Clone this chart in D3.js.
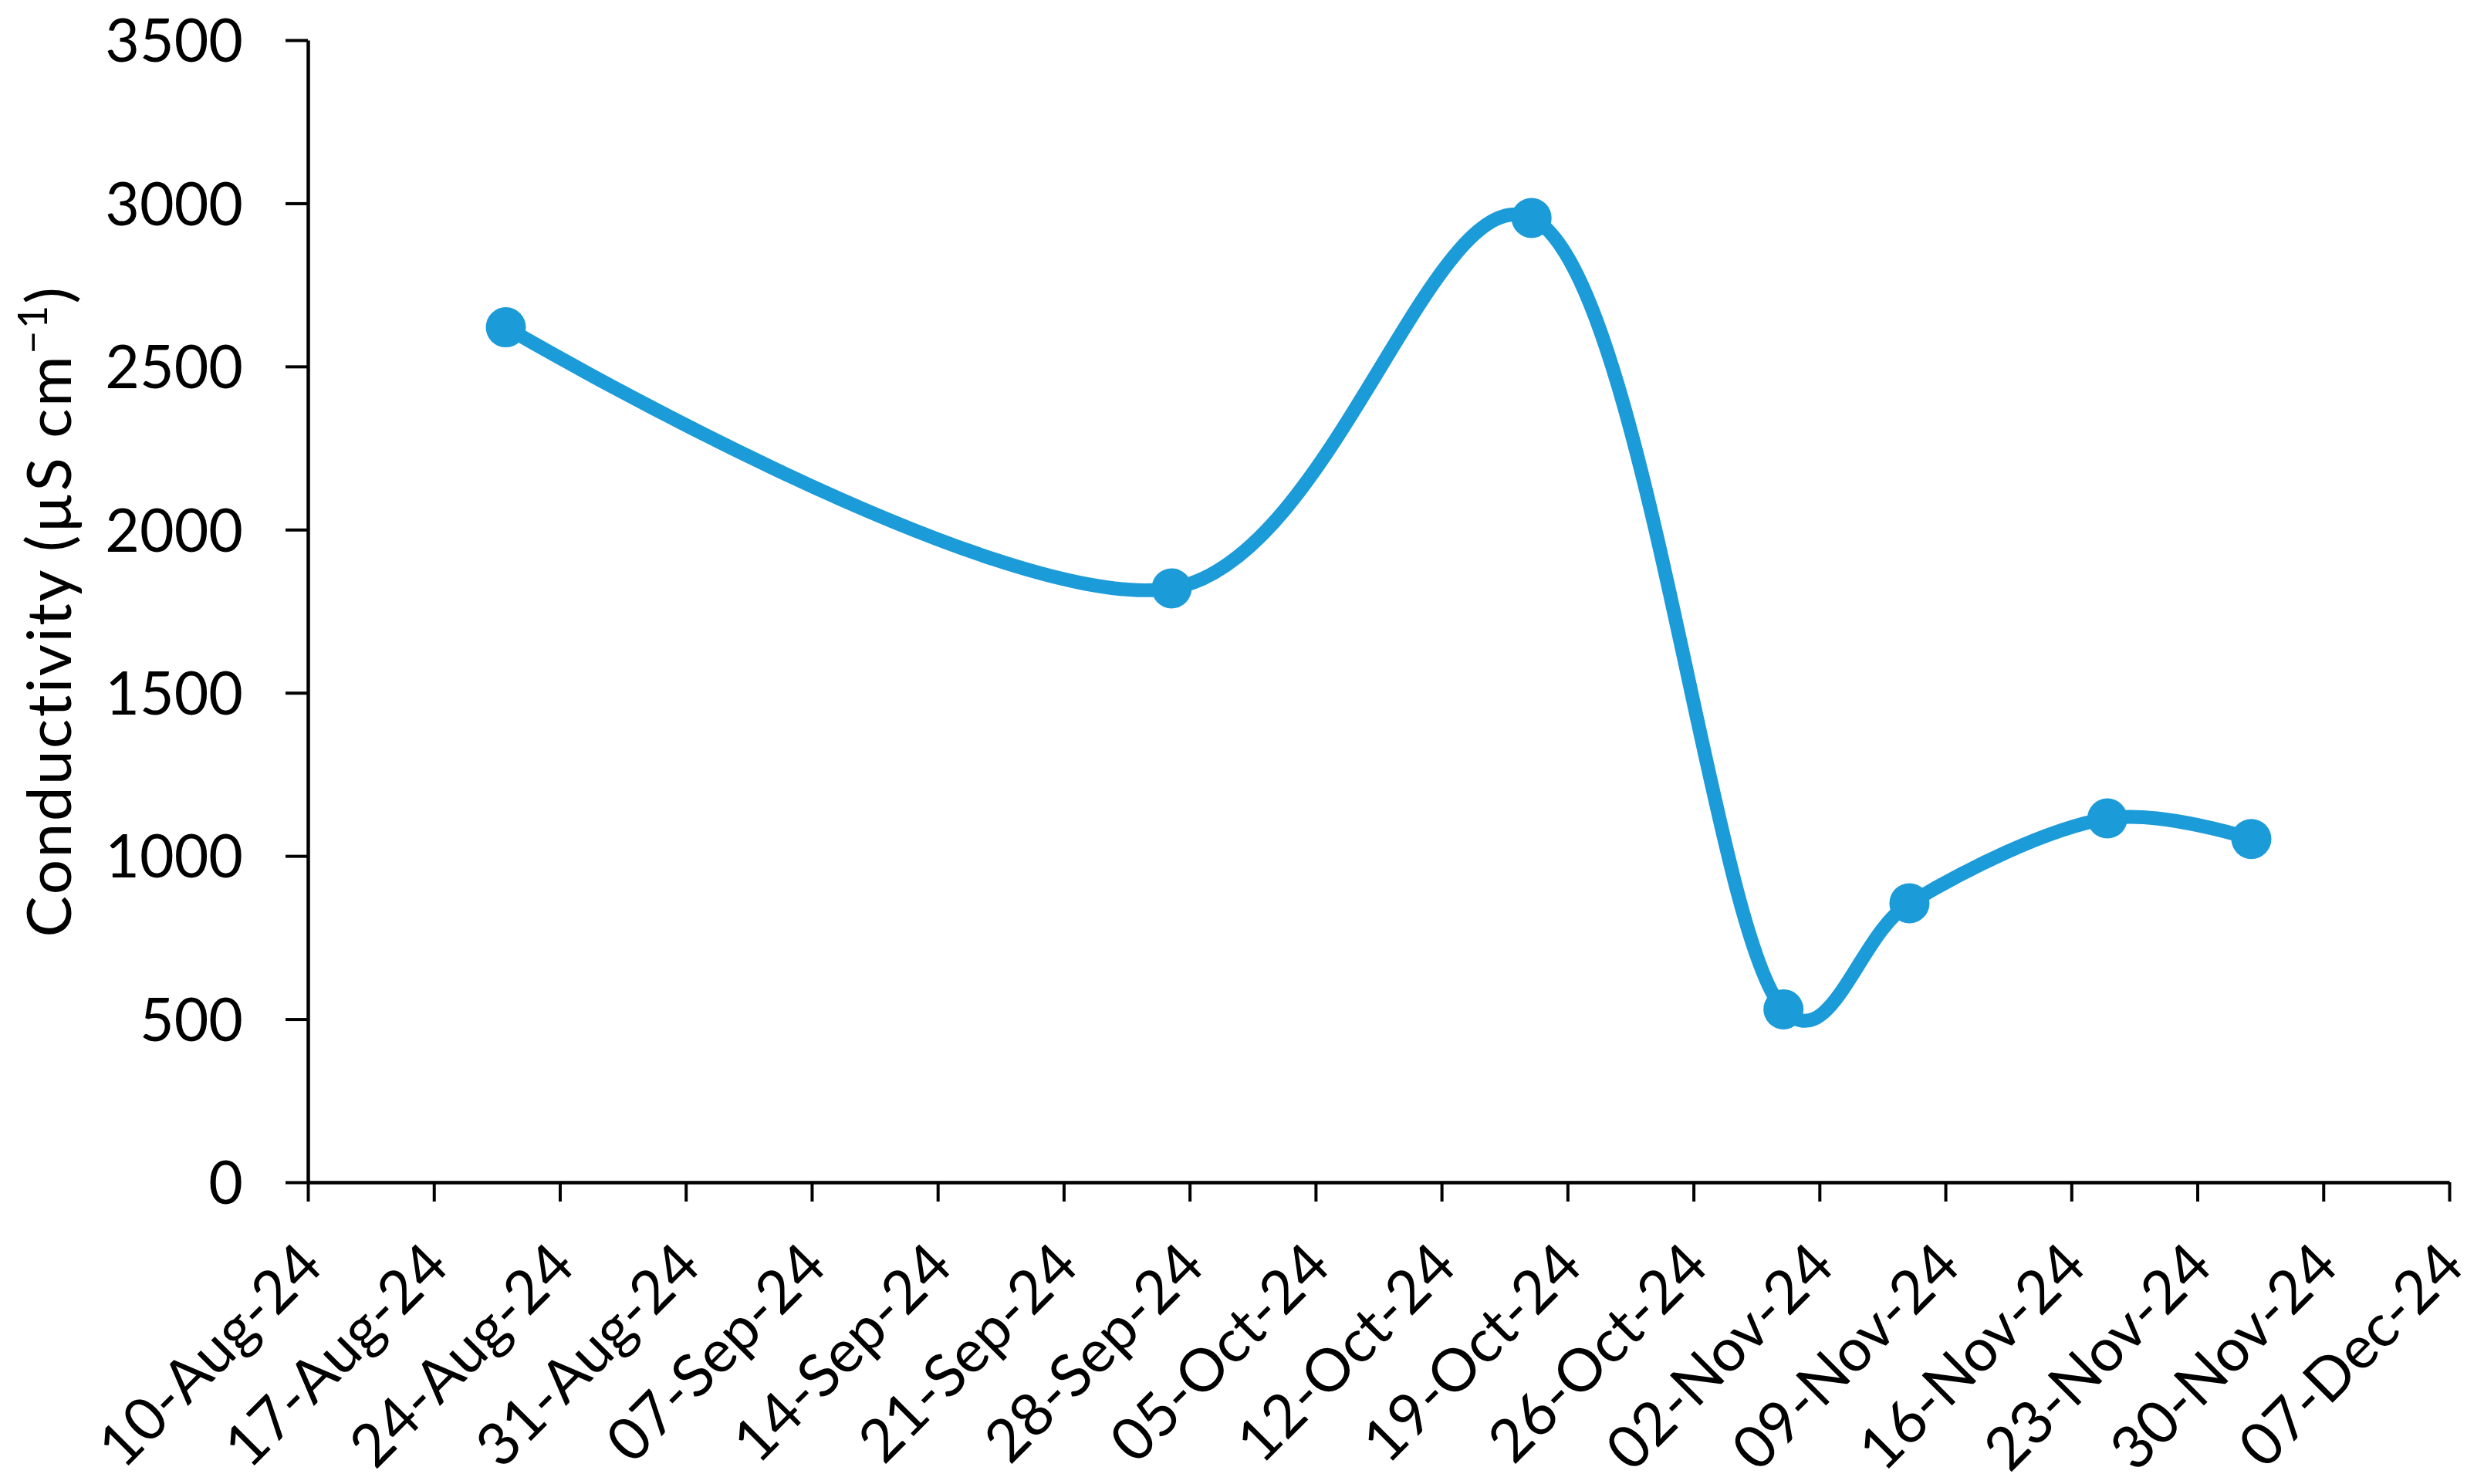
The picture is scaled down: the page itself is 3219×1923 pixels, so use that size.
<!DOCTYPE html>
<html>
<head>
<meta charset="utf-8">
<script src="https://cdn.jsdelivr.net/npm/d3@7"></script>
<style>
    body { margin: 0; background: #fff; }
    svg { display: block; }
    text { font-family: Lato, "Open Sans", sans-serif; fill: #000; }
</style>
</head>
<body>
<div id="chart"></div>
<script>
// sample dates and conductivity readings
const sampleDates = ["21-Aug-24", "27-Sep-24", "17-Oct-24", "31-Oct-24", "07-Nov-24", "18-Nov-24", "26-Nov-24"];
const conductivity = [2620, 1820, 2955, 530, 855, 1115, 1052];

// axis ticks
const xTickLabels = ["10-Aug-24", "17-Aug-24", "24-Aug-24", "31-Aug-24", "07-Sep-24", "14-Sep-24",
    "21-Sep-24", "28-Sep-24", "05-Oct-24", "12-Oct-24", "19-Oct-24", "26-Oct-24",
    "02-Nov-24", "09-Nov-24", "16-Nov-24", "23-Nov-24", "30-Nov-24", "07-Dec-24"];
const yTickValues = [0, 500, 1000, 1500, 2000, 2500, 3000, 3500];

const parseDate = d3.utcParse("%d-%b-%y");
const fmtDate = d3.utcFormat("%d-%b-%y");

const data = sampleDates.map((d, i) => ({ date: parseDate(d), value: conductivity[i] }));
const xTicks = xTickLabels.map(parseDate);

const W = 3219, H = 1923;
const margin = { top: 52, right: 45, bottom: 391, left: 399 };

const svg = d3.select("#chart").append("svg")
    .attr("width", W)
    .attr("height", H);

svg.append("rect").attr("width", W).attr("height", H).attr("fill", "#fff");

const x = d3.scaleUtc()
    .domain([xTicks[0], xTicks[xTicks.length - 1]])
    .range([margin.left, W - margin.right]);

const y = d3.scaleLinear()
    .domain([0, 3500])
    .range([H - margin.bottom, margin.top]);

// y axis
const gy = svg.append("g")
    .attr("transform", `translate(${margin.left},0)`)
    .call(d3.axisLeft(y).tickValues(yTickValues).tickSize(29).tickSizeOuter(0).tickPadding(55).tickFormat(d3.format("d")));

// x axis
const gx = svg.append("g")
    .attr("transform", `translate(0,${H - margin.bottom})`)
    .call(d3.axisBottom(x).tickValues(xTicks).tickSize(25).tickSizeOuter(0).tickFormat(fmtDate));

[gx, gy].forEach(g => {
    g.select(".domain").attr("stroke", "#000").attr("stroke-width", 4.5);
    g.selectAll(".tick line").attr("stroke", "#000").attr("stroke-width", 4);
    g.selectAll("text").attr("font-size", 77).attr("font-family", "Lato, 'Open Sans', sans-serif");
});

gy.selectAll(".tick text").attr("dy", "0.36em");

gx.selectAll(".tick text")
    .attr("x", 0)
    .attr("y", 0)
    .attr("dy", 0)
    .attr("text-anchor", "end")
    .attr("transform", "translate(22,112) rotate(-45)");

// y axis title
const title = svg.append("text")
    .attr("transform", `translate(92,${(y(0) + y(3500)) / 2}) rotate(-90)`)
    .attr("text-anchor", "middle")
    .attr("font-size", 80)
    .attr("letter-spacing", 2.5);
title.append("tspan").text("Conductivity (µS cm");
title.append("tspan").attr("font-size", 52).attr("baseline-shift", "super").text("−1");
title.append("tspan").text(")");

// smoothed line, close to Excel's smoothing
const line = d3.line()
    .x(d => x(d.date))
    .y(d => y(d.value))
    .curve(d3.curveCatmullRom.alpha(0.25));

svg.append("path")
    .datum(data)
    .attr("fill", "none")
    .attr("stroke", "#1b9bd8")
    .attr("stroke-width", 18)
    .attr("d", line);

svg.selectAll("circle.pt")
    .data(data)
    .enter().append("circle")
    .attr("class", "pt")
    .attr("cx", d => x(d.date))
    .attr("cy", d => y(d.value))
    .attr("r", 26)
    .attr("fill", "#1b9bd8");
</script>
</body>
</html>
